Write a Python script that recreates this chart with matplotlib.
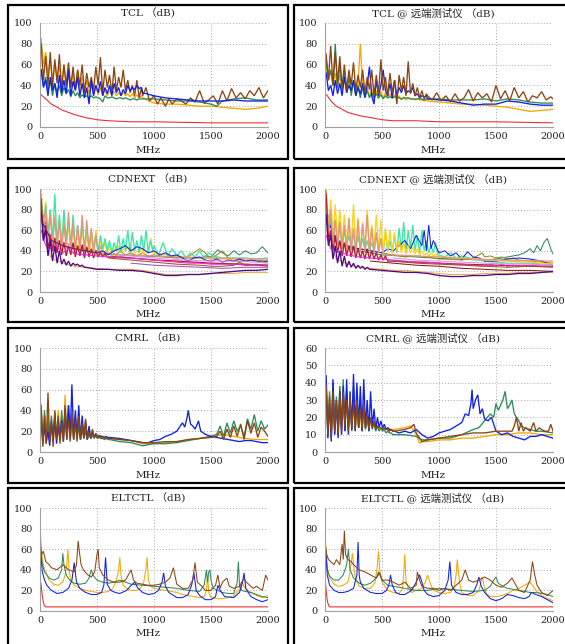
import matplotlib
matplotlib.use("Agg")
import matplotlib.pyplot as plt
from matplotlib.patches import Rectangle

plt.rcParams['font.family'] = ['DejaVu Serif', 'Noto Sans CJK SC']

# ---------------- shared frequency grids (MHz) ----------------
TCL_F = [10, 30, 50, 70, 90, 110, 130, 150, 170, 190, 210, 230, 250, 270, 290, 310, 330, 350, 370, 390,
         410, 430, 450, 470, 490, 510, 530, 550, 570, 590, 610, 630, 650, 670, 690, 710, 730, 750, 770, 790,
         810, 830, 850, 870, 890]
CD_F = TCL_F + [910, 930, 950, 970, 990]
CM_F = [10, 25, 40, 55, 70, 85, 100, 115, 130, 145, 160, 175, 190, 205, 220, 235, 250, 265, 280, 295,
        310, 325, 340, 355, 370, 385, 400, 415, 430, 445, 460, 475, 490, 505, 520, 535, 550, 565, 580, 595]

XTICKS = [0, 500, 1000, 1500, 2000]
YTICKS_100 = [0, 20, 40, 60, 80, 100]
YTICKS_60 = [0, 10, 20, 30, 40, 50, 60]

# ---------------- TCL (left) ----------------
TCL_L_RED_F = [10, 20, 40, 60, 100, 150, 200, 300, 400, 500, 600, 800, 1000, 1500, 2000]
TCL_L_RED_V = [31, 30, 28, 26, 22, 19, 16, 12, 9, 7, 6, 5, 5, 4, 4]
TCL_L_ORA_D = [85, 60, 72, 50, 65, 45, 62, 48, 58, 42, 60, 40, 55, 38, 52, 36, 55, 35, 48, 33, 45, 32, 42, 31,
               40, 31, 38, 30, 36, 30, 35, 31, 34, 30, 33, 30, 33, 30, 32, 29, 32, 28, 31, 28, 30]
TCL_L_ORA_TF = [900, 1000, 1100, 1200, 1300, 1400, 1500, 1600, 1700, 1800, 1900, 2000]
TCL_L_ORA_TV = [28, 23, 22, 22, 21, 20, 20, 19, 18, 17, 18, 20]
TCL_L_GRN_D = [55, 40, 48, 35, 45, 30, 42, 33, 40, 30, 38, 32, 36, 29, 35, 30, 33, 28, 31, 29, 30, 28, 30, 28,
               29, 28, 27, 24, 30, 28, 28, 29, 28, 27, 28, 28, 27, 28, 27, 26, 27, 27, 26, 27, 27]
TCL_L_GRN_TF = [900, 1000, 1100, 1200, 1300, 1400, 1500, 1550, 1600, 1700, 1800, 1900, 2000]
TCL_L_GRN_TV = [27, 27, 26, 25, 25, 24, 22, 20, 25, 27, 28, 26, 26]
TCL_L_BLU_D = [55, 38, 45, 30, 48, 35, 42, 28, 50, 33, 45, 32, 55, 30, 44, 35, 48, 30, 42, 28, 38, 22, 45, 30,
               40, 33, 44, 30, 38, 32, 40, 30, 42, 33, 38, 30, 36, 32, 40, 35, 38, 36, 40, 37, 38]
TCL_L_BLU_TF = [900, 1000, 1100, 1200, 1300, 1400, 1500, 1600, 1700, 1800, 1900, 2000]
TCL_L_BLU_TV = [33, 30, 28, 27, 26, 25, 25, 25, 26, 25, 25, 25]
TCL_L_BRN_D = [80, 45, 68, 40, 72, 38, 65, 42, 70, 35, 60, 40, 62, 38, 58, 36, 55, 40, 60, 33, 52, 38, 48, 35,
               58, 40, 67, 33, 55, 38, 50, 32, 58, 35, 48, 38, 55, 35, 45, 33, 40, 30, 45, 28, 38]
TCL_L_BRN_TF = [900, 930, 960, 1000, 1030, 1060, 1100, 1130, 1160, 1200, 1240, 1280, 1320, 1360, 1400, 1440,
                1480, 1520, 1560, 1600, 1640, 1680, 1720, 1760, 1800, 1840, 1880, 1920, 1960, 2000]
TCL_L_BRN_TV = [30, 38, 25, 30, 22, 28, 20, 27, 22, 27, 25, 22, 28, 24, 35, 23, 26, 30, 22, 35, 25, 37, 28,
                33, 27, 35, 30, 38, 28, 35]

# ---------------- TCL (right, far-end) ----------------
TCL_R_RED_F = [10, 20, 40, 60, 100, 150, 200, 300, 400, 500, 600, 800, 1000, 1500, 2000]
TCL_R_RED_V = [31, 30, 27, 24, 20, 17, 14, 11, 9, 7, 6, 6, 5, 5, 4]
TCL_R_ORA_D = [60, 45, 55, 40, 52, 38, 50, 36, 48, 35, 45, 33, 44, 32, 42, 80, 40, 30, 38, 29, 36, 27, 35, 27,
               34, 28, 33, 28, 32, 27, 31, 27, 30, 26, 29, 26, 28, 27, 27, 26, 27, 26, 26, 25, 26]
TCL_R_ORA_TF = [900, 1000, 1100, 1200, 1300, 1400, 1500, 1600, 1700, 1800, 1900, 2000]
TCL_R_ORA_TV = [25, 24, 23, 22, 22, 21, 20, 19, 17, 15, 16, 17]
TCL_R_GRN_D = [65, 45, 55, 40, 80, 38, 60, 35, 55, 33, 50, 30, 45, 30, 40, 28, 38, 29, 35, 28, 33, 28, 32, 28,
               31, 27, 30, 28, 29, 28, 29, 28, 28, 27, 28, 28, 28, 27, 27, 27, 27, 27, 27, 26, 27]
TCL_R_GRN_TF = [900, 1000, 1100, 1200, 1300, 1400, 1500, 1600, 1700, 1800, 1900, 2000]
TCL_R_GRN_TV = [27, 27, 26, 26, 26, 27, 25, 27, 26, 24, 23, 23]
TCL_R_BLU_D = [52, 35, 40, 30, 45, 32, 42, 30, 48, 33, 40, 35, 45, 30, 38, 32, 42, 28, 40, 58, 30, 22, 45, 30,
               40, 55, 35, 30, 42, 28, 45, 30, 38, 33, 40, 32, 35, 33, 38, 30, 32, 28, 30, 29, 30]
TCL_R_BLU_TF = [900, 1000, 1100, 1200, 1300, 1400, 1500, 1600, 1700, 1800, 1900, 2000]
TCL_R_BLU_TV = [27, 26, 25, 23, 21, 22, 22, 25, 24, 22, 21, 21]
TCL_R_BRN_D = [70, 45, 78, 40, 72, 42, 68, 38, 60, 35, 55, 40, 62, 35, 50, 38, 55, 33, 48, 36, 55, 30, 50, 32,
               65, 35, 48, 30, 52, 33, 45, 22, 50, 35, 48, 30, 63, 32, 42, 30, 38, 28, 35, 27, 32]
TCL_R_BRN_TF = [900, 940, 980, 1020, 1060, 1100, 1140, 1180, 1220, 1260, 1300, 1340, 1380, 1420, 1460, 1500,
                1540, 1580, 1620, 1660, 1700, 1740, 1780, 1820, 1860, 1900, 1940, 1980, 2000]
TCL_R_BRN_TV = [30, 26, 33, 25, 30, 24, 32, 25, 28, 36, 25, 33, 28, 32, 24, 40, 27, 35, 25, 38, 28, 34, 24,
                30, 28, 34, 26, 29, 27]

# ---------------- CDNEXT (left) ----------------
CD_L_AQU_D = [90, 60, 85, 55, 80, 50, 95, 48, 75, 45, 80, 50, 70, 45, 75, 42, 65, 45, 70, 40, 62, 45, 60, 42,
              55, 40, 55, 42, 52, 40, 50, 38, 48, 40, 55, 38, 52, 40, 60, 38, 58, 40, 50, 38, 55, 40, 60, 38,
              50, 40]
CD_L_AQU_TF = [1000, 1040, 1080, 1120, 1160, 1200, 1240, 1280, 1320, 1360, 1400, 1440, 1480, 1520, 1600, 1700,
               1800, 1900, 2000]
CD_L_AQU_TV = [45, 36, 48, 35, 42, 35, 40, 33, 38, 34, 40, 33, 38, 35, 33, 33, 33, 32, 33]
CD_L_GLD_D = [100, 60, 88, 55, 80, 50, 75, 45, 70, 48, 72, 45, 65, 42, 60, 45, 55, 40, 62, 40, 55, 38, 52, 40,
              60, 38, 50, 40, 48, 38, 45, 38, 42, 40, 45, 38, 42, 40, 44, 38, 42, 38, 40, 38, 42, 37, 40, 38,
              52, 38]
CD_L_GLD_TF = [1000, 1100, 1200, 1300, 1400, 1500, 1600, 1700, 1800, 1900, 2000]
CD_L_GLD_TV = [38, 36, 35, 34, 33, 33, 32, 32, 31, 30, 28]
CD_L_SAL_D = [95, 60, 80, 50, 75, 45, 72, 42, 70, 40, 65, 42, 78, 40, 68, 38, 65, 40, 75, 38, 70, 40, 62, 38,
              55, 36, 45, 36, 40, 36, 38, 35, 38, 35, 37, 35]
CD_L_SAL_TF = [800, 1000, 1200, 1500, 2000]
CD_L_SAL_TV = [36, 35, 34, 33, 32]
CD_L_OLV_F = [10, 50, 100, 150, 200, 300, 400, 500, 550, 600, 650, 700, 750, 800, 850, 900, 950, 1000, 1100,
              1200, 1300, 1350, 1400, 1450, 1500, 1550, 1600, 1650, 1700, 1800, 1900, 2000]
CD_L_OLV_V = [85, 60, 55, 50, 48, 45, 42, 40, 36, 38, 34, 40, 36, 38, 35, 38, 35, 36, 34, 33, 34, 38, 42, 38,
              32, 36, 40, 33, 30, 30, 31, 30]
CD_L_SEA_F = [10, 100, 200, 300, 500, 700, 900, 1100, 1300, 1400, 1450, 1500, 1560, 1600, 1650, 1700, 1750,
              1800, 1850, 1900, 1950, 2000]
CD_L_SEA_V = [80, 50, 45, 42, 38, 36, 35, 34, 33, 33, 35, 34, 41, 38, 35, 40, 36, 40, 37, 38, 44, 38]
CD_L_BLU_F = [10, 100, 200, 300, 400, 500, 550, 600, 650, 700, 750, 800, 850, 900, 950, 1000, 1050, 1100, 1150,
              1200, 1250, 1300, 1350, 1400, 1450, 1500, 1550, 1600, 1650, 1700, 1750, 1800, 1850, 1900, 1950,
              2000]
CD_L_BLU_V = [70, 50, 45, 42, 40, 38, 40, 36, 40, 42, 45, 40, 44, 42, 38, 40, 36, 38, 35, 36, 33, 30, 33, 34,
              31, 30, 32, 29, 31, 30, 32, 30, 31, 30, 29, 30]
CD_L_FIR_D = [90, 50, 65, 42, 55, 40, 52, 38, 50, 36, 48, 35, 45, 36, 48, 34, 45, 35, 46, 33, 44, 34, 42, 33,
              40, 34, 38, 34, 37, 34]
CD_L_FIR_TF = [700, 800, 1000, 1200, 1500, 1800, 2000]
CD_L_FIR_TV = [34, 33, 31, 30, 28, 27, 26]
CD_L_MAG_F = [10, 50, 100, 150, 200, 250, 300, 400, 500, 600, 700, 800, 900, 1000, 1100, 1200, 1300, 1400, 1500,
              1600, 1700, 1800, 1900, 2000]
CD_L_MAG_V = [60, 45, 42, 44, 38, 42, 37, 36, 35, 34, 33, 33, 32, 31, 30, 29, 28, 28, 27, 27, 27, 26, 27, 26]
CD_L_VIO_F = [700, 900, 1100, 1300, 1500, 1700, 1900, 2000]
CD_L_VIO_V = [36, 34, 32, 31, 30, 30, 29, 28]
CD_L_SIE_F = [600, 800, 1000, 1200, 1400, 1500, 1600, 1700, 1750, 1800, 1900, 2000]
CD_L_SIE_V = [33, 31, 29, 27, 26, 25, 25, 26, 29, 26, 26, 25]
CD_L_PUR_F = [800, 1000, 1200, 1400, 1600, 1800, 2000]
CD_L_PUR_V = [28, 26, 25, 24, 23, 24, 24]
CD_L_IND_D = [78, 50, 60, 35, 50, 30, 45, 28, 40, 27, 32, 26, 30, 25, 28, 26, 27, 25, 26, 24]
CD_L_IND_TF = [400, 500, 600, 700, 800, 900, 1000, 1100, 1200, 1300, 1400, 1500, 1600, 1700, 1800, 1900, 2000]
CD_L_IND_TV = [24, 22, 22, 21, 21, 20, 18, 16, 16, 17, 17, 18, 19, 20, 21, 21, 22]
CD_L_ORL_F = [50, 100, 200, 300, 400, 500, 600, 700, 800, 900, 1000, 1100, 1200, 1300, 1400, 1500, 1600, 1700,
              1800, 1900, 2000]
CD_L_ORL_V = [45, 33, 28, 25, 24, 23, 22, 22, 22, 21, 19, 17, 17, 17, 17, 18, 18, 18, 19, 19, 19]

# ---------------- CDNEXT (right, far-end) ----------------
CD_R_AQU_D = [80, 55, 75, 50, 70, 45, 65, 42, 60, 45, 55, 42, 58, 40, 55, 42, 52, 40, 50, 40, 48, 40, 55, 40,
              52, 38, 58, 40, 50, 38, 55, 38, 62, 40, 68, 38, 60, 42, 65, 40, 55, 38, 60, 40, 50, 38, 45, 38,
              48, 36]
CD_R_AQU_TF = [1000, 1050, 1100, 1150, 1200, 1300, 1400, 1500, 1600, 1700, 1800, 1900, 2000]
CD_R_AQU_TV = [36, 34, 38, 33, 35, 32, 30, 29, 28, 28, 28, 27, 27]
CD_R_GLD_D = [100, 60, 90, 55, 85, 50, 80, 48, 75, 45, 70, 45, 85, 42, 72, 40, 68, 42, 80, 40, 65, 42, 75, 40,
              70, 38, 62, 40, 60, 38, 58, 40, 50, 38, 48, 37, 45, 38, 44, 37, 42, 36, 40, 36, 38, 35, 38, 35,
              37, 35]
CD_R_GLD_TF = [1000, 1200, 1400, 1600, 1800, 2000]
CD_R_GLD_TV = [34, 33, 31, 30, 29, 27]
CD_R_SAL_D = [98, 55, 80, 48, 70, 45, 68, 42, 65, 40, 72, 40, 62, 38, 70, 38, 66, 40, 75, 38, 62, 38, 58, 38,
              52, 36]
CD_R_SAL_TF = [600, 800, 1000, 1500, 2000]
CD_R_SAL_TV = [36, 35, 34, 31, 30]
CD_R_BLU_F = [10, 100, 200, 300, 400, 500, 550, 600, 650, 700, 750, 800, 850, 870, 890, 910, 930, 950, 1000,
              1050, 1100, 1150, 1200, 1250, 1300, 1350, 1400, 1500, 1600, 1700, 1800, 1900, 2000]
CD_R_BLU_V = [75, 48, 44, 42, 40, 38, 42, 40, 45, 50, 42, 55, 45, 60, 40, 65, 42, 50, 38, 40, 35, 38, 32, 39,
              34, 33, 30, 30, 32, 33, 32, 30, 26]
CD_R_OLV_F = [10, 100, 200, 300, 400, 500, 600, 700, 800, 900, 1000, 1100, 1200, 1300, 1350, 1380, 1400, 1450,
              1500, 1550, 1600, 1650, 1700, 1800, 1900, 2000]
CD_R_OLV_V = [80, 50, 45, 42, 40, 38, 36, 34, 35, 34, 32, 32, 31, 33, 36, 38, 34, 35, 33, 34, 32, 33, 31, 30,
              29, 28]
CD_R_SEA_F = [10, 100, 300, 500, 800, 1100, 1400, 1500, 1600, 1650, 1700, 1750, 1800, 1830, 1860, 1890, 1920,
              1950, 1980, 2000]
CD_R_SEA_V = [75, 48, 40, 36, 34, 32, 31, 32, 34, 35, 36, 38, 42, 38, 45, 40, 48, 52, 42, 37]
CD_R_FIR_D = [95, 50, 60, 40, 55, 38, 50, 35, 48, 35, 45, 34, 45, 33, 42, 33, 40, 32, 42, 32, 40, 32, 38, 31,
              36, 31, 35, 30]
CD_R_FIR_TF = [600, 800, 1000, 1200, 1500, 1800, 2000]
CD_R_FIR_TV = [30, 29, 28, 27, 26, 25, 25]
CD_R_MAG_F = [10, 50, 100, 150, 200, 300, 400, 500, 600, 700, 800, 900, 1000, 1100, 1200, 1300, 1400, 1450,
              1500, 1550, 1600, 1650, 1700, 1800, 1900, 2000]
CD_R_MAG_V = [55, 42, 40, 38, 36, 34, 33, 32, 31, 30, 29, 29, 28, 27, 27, 26, 25, 27, 25, 27, 25, 26, 25, 26,
              25, 25]
CD_R_VIO_F = [600, 800, 1000, 1200, 1400, 1600, 1800, 2000]
CD_R_VIO_V = [33, 31, 30, 29, 28, 27, 27, 26]
CD_R_SIE_F = [600, 800, 1000, 1200, 1400, 1600, 1800, 2000]
CD_R_SIE_V = [30, 28, 27, 26, 25, 24, 25, 24]
CD_R_DRD_F = [400, 600, 800, 1000, 1200, 1400, 1600, 1800, 2000]
CD_R_DRD_V = [30, 28, 26, 25, 23, 22, 21, 21, 20]
CD_R_IND_D = [75, 45, 55, 32, 45, 28, 40, 25, 35, 24, 30, 24, 28, 23, 26, 23, 25, 22, 24, 22]
CD_R_IND_TF = [400, 500, 600, 700, 800, 900, 1000, 1100, 1200, 1300, 1400, 1500, 1600, 1700, 1800, 1900, 2000]
CD_R_IND_TV = [22, 21, 20, 19, 19, 18, 16, 15, 15, 16, 16, 17, 17, 18, 18, 19, 20]
CD_R_ORL_F = [50, 100, 200, 300, 400, 500, 600, 700, 800, 900, 1000, 1100, 1200, 1300, 1400, 1500, 1600, 1700,
              1800, 1900, 2000]
CD_R_ORL_V = [45, 32, 27, 24, 23, 22, 21, 21, 20, 19, 18, 17, 17, 17, 18, 18, 18, 19, 19, 19, 19]

# ---------------- CMRL (left) ----------------
CM_L_BLU_D = [30, 8, 25, 10, 20, 6, 28, 10, 35, 8, 25, 12, 30, 10, 40, 12, 45, 15, 65, 12, 40, 15, 45, 12, 35,
              14, 30, 12, 25, 13, 20, 15, 17, 14, 16, 15, 15, 14, 15, 14]
CM_L_BLU_TF = [610, 700, 800, 850, 900, 950, 1000, 1050, 1100, 1150, 1200, 1230, 1250, 1270, 1290, 1300, 1320,
               1340, 1360, 1380, 1390, 1410, 1450, 1500, 1550, 1600, 1650, 1700, 1750, 1800, 1850, 1900, 1950,
               2000]
CM_L_BLU_TV = [14, 13, 11, 10, 9, 9, 11, 12, 15, 17, 20, 25, 28, 24, 33, 40, 27, 25, 22, 27, 30, 20, 17, 15,
               14, 13, 12, 11, 10, 11, 11, 10, 9, 9]
CM_L_ORA_D = [45, 10, 30, 8, 35, 12, 25, 10, 30, 14, 40, 12, 35, 10, 55, 15, 38, 12, 30, 14, 35, 12, 28, 13,
              25, 14, 22, 13, 20, 14, 18, 16, 17, 15, 16, 14, 15, 14, 14, 13]
CM_L_ORA_TF = [610, 700, 800, 900, 1000, 1100, 1200, 1300, 1400, 1500, 1600, 1700, 1800, 1900, 2000]
CM_L_ORA_TV = [13, 12, 11, 8, 8, 9, 10, 12, 13, 15, 17, 15, 13, 12, 12]
CM_L_GRN_D = [45, 10, 40, 8, 30, 10, 35, 12, 38, 15, 30, 12, 40, 14, 42, 15, 45, 13, 35, 12, 28, 13, 25, 12,
              22, 13, 20, 12, 18, 13, 16, 14, 15, 13, 14, 13, 13, 12, 13, 12]
CM_L_GRN_TF = [610, 700, 800, 900, 1000, 1100, 1200, 1300, 1400, 1500, 1550, 1580, 1610, 1640, 1670, 1700, 1730,
               1760, 1790, 1820, 1850, 1880, 1910, 1940, 1970, 2000]
CM_L_GRN_TV = [12, 10, 9, 6, 8, 8, 9, 11, 13, 15, 17, 25, 15, 28, 18, 30, 20, 25, 15, 32, 22, 36, 20, 30, 22, 26]
CM_L_BRN_D = [42, 5, 35, 8, 57, 10, 30, 5, 40, 12, 35, 8, 28, 10, 45, 12, 32, 10, 38, 12, 30, 10, 35, 12, 28,
              13, 32, 12, 20, 14, 22, 13, 18, 14, 16, 13, 15, 13, 14, 13]
CM_L_BRN_TF = [610, 700, 800, 900, 1000, 1100, 1200, 1300, 1400, 1500, 1550, 1580, 1610, 1640, 1670, 1700, 1730,
               1760, 1790, 1820, 1850, 1880, 1910, 1940, 1970, 2000]
CM_L_BRN_TV = [13, 12, 11, 9, 9, 10, 10, 12, 13, 14, 15, 20, 12, 22, 14, 25, 15, 27, 12, 30, 18, 28, 14, 24, 20, 15]

# ---------------- CMRL (right, far-end) ----------------
CM_R_BLU_D = [44, 8, 28, 6, 42, 10, 30, 8, 35, 10, 38, 12, 42, 10, 35, 13, 45, 12, 40, 14, 38, 12, 42, 14, 30,
              12, 35, 14, 25, 13, 20, 14, 18, 14, 16, 13, 14, 13, 13, 12]
CM_R_BLU_TF = [610, 650, 700, 750, 800, 850, 900, 950, 1000, 1050, 1100, 1150, 1200, 1230, 1260, 1280, 1290, 1300,
               1320, 1340, 1360, 1380, 1400, 1430, 1460, 1500, 1550, 1600, 1650, 1700, 1750, 1800, 1850, 1900,
               1950, 2000]
CM_R_BLU_TV = [12, 11, 12, 11, 13, 10, 8, 9, 11, 12, 13, 15, 17, 22, 21, 28, 36, 25, 30, 33, 22, 25, 19, 18, 20,
               12, 10, 11, 9, 8, 7, 9, 9, 10, 9, 8]
CM_R_GRN_D = [42, 10, 35, 8, 40, 12, 32, 10, 38, 15, 42, 12, 35, 14, 30, 12, 38, 13, 33, 14, 28, 12, 25, 13,
              22, 12, 20, 13, 17, 12, 15, 12, 14, 12, 13, 11, 12, 11, 11, 10]
CM_R_GRN_TF = [610, 700, 800, 850, 900, 1000, 1100, 1200, 1300, 1350, 1400, 1450, 1480, 1500, 1520, 1540, 1560,
               1580, 1600, 1620, 1640, 1660, 1680, 1700, 1720, 1750, 1800, 1850, 1900, 2000]
CM_R_GRN_TV = [10, 10, 9, 7, 7, 8, 8, 10, 13, 14, 18, 22, 20, 28, 24, 27, 30, 35, 25, 27, 30, 22, 20, 18, 15,
               14, 13, 12, 12, 11]
CM_R_ORA_D = [40, 8, 30, 12, 35, 10, 28, 12, 38, 10, 30, 14, 35, 12, 28, 13, 30, 12, 25, 14, 28, 12, 24, 13,
              20, 14, 18, 15, 16, 14, 15, 14, 14, 13, 14, 13, 14, 13, 13, 13]
CM_R_ORA_TF = [610, 700, 750, 800, 830, 850, 900, 1000, 1100, 1200, 1300, 1400, 1500, 1600, 1700, 1800, 1900, 2000]
CM_R_ORA_TV = [13, 14, 15, 10, 5, 6, 6, 7, 7, 8, 8, 9, 10, 10, 11, 11, 10, 10]
CM_R_BRN_D = [38, 10, 32, 8, 35, 12, 30, 10, 33, 12, 35, 15, 30, 12, 32, 14, 28, 13, 30, 14, 25, 13, 28, 14,
              22, 13, 20, 14, 18, 13, 15, 14, 14, 13, 14, 13, 13, 12, 13, 12]
CM_R_BRN_TF = [610, 700, 750, 780, 800, 850, 900, 1000, 1100, 1200, 1300, 1400, 1500, 1600, 1640, 1660, 1680,
               1700, 1720, 1740, 1760, 1800, 1830, 1850, 1880, 1900, 1930, 1960, 1980, 2000]
CM_R_BRN_TV = [12, 13, 14, 16, 11, 6, 7, 8, 9, 10, 11, 11, 12, 12, 12, 15, 20, 12, 17, 12, 14, 12, 17, 12, 14,
               13, 12, 12, 16, 12]

# ---------------- ELTCTL (left) ----------------
EL_L_RED_F = [2, 10, 20, 30, 40, 50, 60, 100, 500, 1000, 2000]
EL_L_RED_V = [30, 25, 15, 8, 5, 4, 4, 4, 4, 4, 4]
EL_L_ORA_F = [5, 20, 40, 80, 120, 160, 200, 220, 235, 245, 255, 270, 300, 350, 400, 450, 500, 550, 600, 640,
              670, 690, 700, 710, 730, 760, 800, 850, 880, 910, 930, 940, 950, 970, 1000, 1050, 1100, 1150,
              1200, 1250, 1300, 1350, 1400, 1440, 1460, 1470, 1480, 1500, 1550, 1600, 1650, 1700, 1740, 1770,
              1800, 1850, 1900, 1950, 2000]
EL_L_ORA_V = [72, 50, 40, 30, 26, 25, 28, 35, 45, 60, 40, 30, 25, 22, 20, 19, 18, 18, 19, 22, 30, 40, 52, 35,
              25, 22, 20, 20, 22, 28, 42, 52, 30, 24, 22, 21, 20, 19, 18, 16, 15, 14, 13, 14, 20, 35, 18, 13,
              12, 12, 13, 15, 20, 28, 22, 18, 15, 13, 15]
EL_L_GRN_F = [5, 20, 40, 80, 120, 160, 190, 200, 210, 230, 260, 300, 350, 400, 430, 450, 470, 500, 550, 600,
              650, 700, 750, 800, 900, 1000, 1100, 1200, 1300, 1400, 1440, 1460, 1470, 1480, 1490, 1500, 1520,
              1560, 1600, 1650, 1700, 1730, 1740, 1750, 1770, 1800, 1850, 1900, 1950, 2000]
EL_L_GRN_V = [62, 45, 38, 32, 30, 32, 40, 56, 45, 35, 30, 27, 26, 27, 32, 40, 34, 30, 28, 27, 28, 30, 28, 26,
              25, 24, 23, 22, 20, 19, 25, 40, 28, 38, 40, 30, 22, 20, 18, 17, 17, 28, 48, 25, 20, 19, 18, 16,
              14, 13]
EL_L_BLU_F = [5, 20, 40, 60, 100, 150, 200, 250, 280, 300, 320, 350, 400, 450, 500, 540, 560, 575, 590, 620,
              660, 700, 760, 800, 830, 860, 900, 950, 1000, 1040, 1070, 1085, 1100, 1130, 1200, 1250, 1300,
              1330, 1350, 1370, 1400, 1450, 1500, 1540, 1560, 1580, 1620, 1700, 1750, 1775, 1790, 1805, 1850,
              1900, 1950, 2000]
EL_L_BLU_V = [58, 38, 30, 25, 20, 17, 18, 22, 30, 47, 28, 22, 18, 16, 16, 18, 25, 52, 26, 20, 18, 17, 20, 25,
              28, 22, 18, 16, 17, 20, 28, 37, 24, 18, 13, 13, 16, 25, 37, 20, 15, 11, 11, 14, 25, 20, 14, 13,
              18, 27, 37, 22, 14, 11, 9, 11]
EL_L_BRN_F = [5, 15, 30, 50, 80, 100, 150, 200, 250, 300, 320, 335, 345, 360, 380, 420, 450, 480, 500, 510,
              520, 550, 600, 650, 700, 750, 800, 820, 850, 900, 950, 1000, 1050, 1100, 1140, 1170, 1200, 1250,
              1300, 1340, 1360, 1380, 1420, 1450, 1500, 1540, 1560, 1580, 1600, 1640, 1660, 1700, 1750, 1790,
              1810, 1830, 1870, 1900, 1950, 1980, 2000]
EL_L_BRN_V = [62, 55, 58, 48, 45, 42, 40, 45, 40, 38, 45, 68, 58, 45, 40, 35, 33, 38, 55, 60, 42, 35, 30, 28,
              28, 30, 40, 30, 27, 26, 25, 25, 26, 28, 32, 42, 26, 22, 22, 30, 47, 28, 24, 20, 20, 25, 35, 22,
              28, 32, 24, 22, 24, 32, 28, 26, 22, 24, 20, 35, 30]

# ---------------- ELTCTL (right, far-end) ----------------
EL_R_RED_F = [2, 10, 20, 30, 40, 60, 100, 2000]
EL_R_RED_V = [30, 20, 10, 6, 4, 4, 4, 4]
EL_R_ORA_F = [5, 20, 40, 80, 120, 160, 200, 220, 240, 255, 270, 300, 350, 400, 440, 460, 470, 480, 500, 550,
              600, 650, 680, 690, 700, 710, 730, 760, 800, 850, 880, 900, 920, 950, 1000, 1050, 1100, 1130,
              1150, 1160, 1180, 1200, 1250, 1300, 1350, 1380, 1400, 1420, 1450, 1500, 1550, 1600, 1650, 1700,
              1750, 1800, 1850, 1900, 1950, 2000]
EL_R_ORA_V = [66, 42, 32, 26, 24, 25, 28, 38, 56, 40, 30, 24, 22, 22, 28, 45, 58, 40, 28, 20, 18, 17, 22, 35,
              55, 30, 22, 18, 20, 22, 28, 35, 28, 20, 18, 17, 18, 22, 35, 50, 28, 18, 15, 15, 20, 33, 22, 16,
              14, 14, 15, 17, 20, 22, 25, 28, 20, 15, 12, 10]
EL_R_GRN_F = [5, 20, 40, 80, 120, 160, 190, 205, 220, 250, 300, 350, 400, 450, 480, 500, 550, 600, 700, 800,
              900, 1000, 1100, 1200, 1300, 1400, 1450, 1480, 1500, 1520, 1560, 1600, 1650, 1700, 1750, 1800,
              1850, 1900, 1950, 2000]
EL_R_GRN_V = [62, 40, 34, 30, 30, 35, 45, 60, 40, 32, 27, 25, 27, 32, 37, 30, 25, 24, 22, 20, 20, 22, 21, 20,
              19, 20, 24, 30, 33, 27, 24, 22, 21, 20, 19, 18, 18, 17, 16, 14]
EL_R_BLU_F = [5, 20, 40, 80, 120, 160, 200, 250, 280, 290, 300, 310, 340, 400, 450, 500, 540, 560, 575, 590,
              620, 660, 700, 760, 800, 830, 850, 870, 900, 950, 1000, 1050, 1080, 1095, 1110, 1150, 1200, 1250,
              1300, 1330, 1350, 1370, 1400, 1450, 1500, 1550, 1600, 1650, 1700, 1750, 1790, 1810, 1850, 1900,
              1950, 2000]
EL_R_BLU_V = [60, 35, 25, 20, 18, 18, 19, 22, 35, 67, 35, 28, 22, 18, 17, 17, 20, 25, 35, 25, 18, 16, 16, 20,
              28, 35, 28, 20, 16, 14, 15, 20, 30, 48, 25, 18, 16, 16, 18, 25, 33, 24, 18, 12, 10, 12, 16, 15,
              13, 12, 14, 18, 16, 14, 11, 8]
EL_R_BRN_F = [5, 15, 30, 50, 80, 100, 130, 150, 160, 170, 180, 200, 230, 250, 300, 350, 400, 450, 470, 500,
              550, 600, 650, 700, 750, 800, 810, 830, 850, 900, 950, 1000, 1050, 1100, 1150, 1200, 1230, 1260,
              1300, 1350, 1400, 1450, 1500, 1550, 1600, 1640, 1660, 1700, 1750, 1800, 1820, 1840, 1860, 1900,
              1950, 2000]
EL_R_BRN_V = [62, 55, 50, 48, 45, 50, 45, 65, 50, 78, 55, 50, 48, 45, 40, 38, 35, 32, 38, 30, 30, 28, 25, 28,
              22, 25, 38, 30, 24, 22, 22, 20, 22, 20, 25, 30, 40, 30, 28, 30, 33, 30, 25, 23, 27, 32, 28, 20,
              18, 30, 48, 35, 25, 18, 15, 20]

# ---------------- colours ----------------
C_RED = '#E8262A'
C_ORA = '#F5A800'
C_GRN = '#2E8B57'
C_BLU = '#1020E8'
C_BRN = '#8B4513'
C_AQU = '#3DE6A5'
C_GLD = '#FFD21A'
C_SAL = '#E5957C'
C_OLV = '#8F8F1E'
C_SEA = '#2E8B57'
C_FIR = '#B01C2E'
C_MAG = '#F020E0'
C_VIO = '#E58AE8'
C_SIE = '#A0522D'
C_PUR = '#9B59B6'
C_DRD = '#8B1A1A'
C_ORL = '#F2A93B'
C_IND = '#4B0A8C'


def join(grid, dense, tail_f=(), tail_v=()):
    n = min(len(grid), len(dense))
    return list(grid[:n]) + list(tail_f), list(dense[:n]) + list(tail_v)


fig = plt.figure(figsize=(5.65, 6.44), dpi=100)
W, H = 565.0, 644.0

AX_LEFT = [40, 325]
AX_W = 228
ROW_TOP = [23, 189, 348, 508]
ROW_BOT = [127, 292, 452, 611]
BOX_X = [(8, 288), (294, 580)]
BOX_Y = [(5, 159), (168, 322), (328, 483), (488, 652)]


def panel(row, col, title, ylim, yticks, series):
    x0 = AX_LEFT[col]
    top, bot = ROW_TOP[row], ROW_BOT[row]
    ax = fig.add_axes([x0 / W, 1 - bot / H, AX_W / W, (bot - top) / H])
    for (f, v), c, lw in series:
        ax.plot(f, v, color=c, lw=lw, solid_joinstyle='miter')
    ax.set_xlim(0, 2000)
    ax.set_ylim(*ylim)
    ax.set_xticks(XTICKS)
    ax.set_yticks(yticks)
    ax.grid(True, ls=(0, (1, 2)), color='#A8A8A8', lw=0.7)
    ax.set_axisbelow(True)
    for s in ['top', 'right']:
        ax.spines[s].set_visible(False)
    for s in ['left', 'bottom']:
        ax.spines[s].set_color('#A0A0A0')
        ax.spines[s].set_linewidth(0.8)
    ax.tick_params(length=0, labelsize=7, colors='#222222')
    ax.tick_params(axis='y', pad=5.5)
    ax.tick_params(axis='x', pad=3.5)
    bx0, bx1 = BOX_X[col]
    by0, by1 = BOX_Y[row]
    fig.patches.append(Rectangle((bx0 / W, 1 - by1 / H), (bx1 - bx0) / W, (by1 - by0) / H,
                                 transform=fig.transFigure, fill=False, ec='black', lw=1.6))
    cx = (bx0 + bx1) / 2
    if col == 1:
        cx = 433
    fig.text(cx / W, 1 - (top - 10) / H, title, ha='center', va='center', fontsize=7.5, color='#222222')
    fig.text(cx / W, 1 - (bot + 23) / H, 'MHz', ha='center', va='center', fontsize=7.5, color='#222222')
    return ax


LW = 0.75   # smooth traces
LN = 0.95   # noisy traces

panel(0, 0, 'TCL （dB)', (0, 100), YTICKS_100, [
    ((TCL_L_RED_F, TCL_L_RED_V), C_RED, LW),
    (join(TCL_F, TCL_L_ORA_D, TCL_L_ORA_TF, TCL_L_ORA_TV), C_ORA, LN),
    (join(TCL_F, TCL_L_GRN_D, TCL_L_GRN_TF, TCL_L_GRN_TV), C_GRN, LN),
    (join(TCL_F, TCL_L_BRN_D, TCL_L_BRN_TF, TCL_L_BRN_TV), C_BRN, LN),
    (join(TCL_F, TCL_L_BLU_D, TCL_L_BLU_TF, TCL_L_BLU_TV), C_BLU, LN),
])
panel(0, 1, 'TCL @ 远端测试仪 （dB)', (0, 100), YTICKS_100, [
    ((TCL_R_RED_F, TCL_R_RED_V), C_RED, LW),
    (join(TCL_F, TCL_R_ORA_D, TCL_R_ORA_TF, TCL_R_ORA_TV), C_ORA, LN),
    (join(TCL_F, TCL_R_GRN_D, TCL_R_GRN_TF, TCL_R_GRN_TV), C_GRN, LN),
    (join(TCL_F, TCL_R_BLU_D, TCL_R_BLU_TF, TCL_R_BLU_TV), C_BLU, LN),
    (join(TCL_F, TCL_R_BRN_D, TCL_R_BRN_TF, TCL_R_BRN_TV), C_BRN, LN),
])
panel(1, 0, 'CDNEXT （dB)', (0, 100), YTICKS_100, [
    ((CD_L_SEA_F, CD_L_SEA_V), C_SEA, LW),
    ((CD_L_OLV_F, CD_L_OLV_V), C_OLV, LW),
    (join(CD_F, CD_L_GLD_D, CD_L_GLD_TF, CD_L_GLD_TV), C_GLD, LN),
    (join(CD_F, CD_L_AQU_D, CD_L_AQU_TF, CD_L_AQU_TV), C_AQU, LN),
    (join(CD_F, CD_L_SAL_D, CD_L_SAL_TF, CD_L_SAL_TV), C_SAL, LN),
    ((CD_L_BLU_F, CD_L_BLU_V), C_BLU, LW),
    (join(CD_F, CD_L_FIR_D, CD_L_FIR_TF, CD_L_FIR_TV), C_FIR, LN),
    ((CD_L_MAG_F, CD_L_MAG_V), C_MAG, LW),
    ((CD_L_VIO_F, CD_L_VIO_V), C_VIO, LW),
    ((CD_L_SIE_F, CD_L_SIE_V), C_SIE, LW),
    ((CD_L_PUR_F, CD_L_PUR_V), C_PUR, LW),
    ((CD_L_ORL_F, CD_L_ORL_V), C_ORL, LW),
    (join(CD_F, CD_L_IND_D, CD_L_IND_TF, CD_L_IND_TV), C_IND, LN),
])
panel(1, 1, 'CDNEXT @ 远端测试仪 （dB)', (0, 100), YTICKS_100, [
    ((CD_R_SEA_F, CD_R_SEA_V), C_SEA, LW),
    ((CD_R_OLV_F, CD_R_OLV_V), C_OLV, LW),
    (join(CD_F, CD_R_AQU_D, CD_R_AQU_TF, CD_R_AQU_TV), C_AQU, LN),
    ((CD_R_BLU_F, CD_R_BLU_V), C_BLU, LW),
    (join(CD_F, CD_R_GLD_D, CD_R_GLD_TF, CD_R_GLD_TV), C_GLD, LN),
    (join(CD_F, CD_R_SAL_D, CD_R_SAL_TF, CD_R_SAL_TV), C_SAL, LN),
    (join(CD_F, CD_R_FIR_D, CD_R_FIR_TF, CD_R_FIR_TV), C_FIR, LN),
    ((CD_R_MAG_F, CD_R_MAG_V), C_MAG, LW),
    ((CD_R_VIO_F, CD_R_VIO_V), C_VIO, LW),
    ((CD_R_SIE_F, CD_R_SIE_V), C_SIE, LW),
    ((CD_R_DRD_F, CD_R_DRD_V), C_DRD, LW),
    ((CD_R_ORL_F, CD_R_ORL_V), C_ORL, LW),
    (join(CD_F, CD_R_IND_D, CD_R_IND_TF, CD_R_IND_TV), C_IND, LN),
])
panel(2, 0, 'CMRL （dB)', (0, 100), YTICKS_100, [
    (join(CM_F, CM_L_ORA_D, CM_L_ORA_TF, CM_L_ORA_TV), C_ORA, LN),
    (join(CM_F, CM_L_GRN_D, CM_L_GRN_TF, CM_L_GRN_TV), C_GRN, LN),
    (join(CM_F, CM_L_BLU_D, CM_L_BLU_TF, CM_L_BLU_TV), C_BLU, LN),
    (join(CM_F, CM_L_BRN_D, CM_L_BRN_TF, CM_L_BRN_TV), C_BRN, LN),
])
panel(2, 1, 'CMRL @ 远端测试仪 （dB)', (0, 60), YTICKS_60, [
    (join(CM_F, CM_R_ORA_D, CM_R_ORA_TF, CM_R_ORA_TV), C_ORA, LN),
    (join(CM_F, CM_R_GRN_D, CM_R_GRN_TF, CM_R_GRN_TV), C_GRN, LN),
    (join(CM_F, CM_R_BLU_D, CM_R_BLU_TF, CM_R_BLU_TV), C_BLU, LN),
    (join(CM_F, CM_R_BRN_D, CM_R_BRN_TF, CM_R_BRN_TV), C_BRN, LN),
])
panel(3, 0, 'ELTCTL （dB)', (0, 100), YTICKS_100, [
    ((EL_L_RED_F, EL_L_RED_V), C_RED, LW),
    ((EL_L_ORA_F, EL_L_ORA_V), C_ORA, LW),
    ((EL_L_GRN_F, EL_L_GRN_V), C_GRN, LW),
    ((EL_L_BLU_F, EL_L_BLU_V), C_BLU, LW),
    ((EL_L_BRN_F, EL_L_BRN_V), C_BRN, LW),
])
panel(3, 1, 'ELTCTL @ 远端测试仪 （dB)', (0, 100), YTICKS_100, [
    ((EL_R_RED_F, EL_R_RED_V), C_RED, LW),
    ((EL_R_ORA_F, EL_R_ORA_V), C_ORA, LW),
    ((EL_R_GRN_F, EL_R_GRN_V), C_GRN, LW),
    ((EL_R_BLU_F, EL_R_BLU_V), C_BLU, LW),
    ((EL_R_BRN_F, EL_R_BRN_V), C_BRN, LW),
])

fig.savefig('out.png', dpi=100)
